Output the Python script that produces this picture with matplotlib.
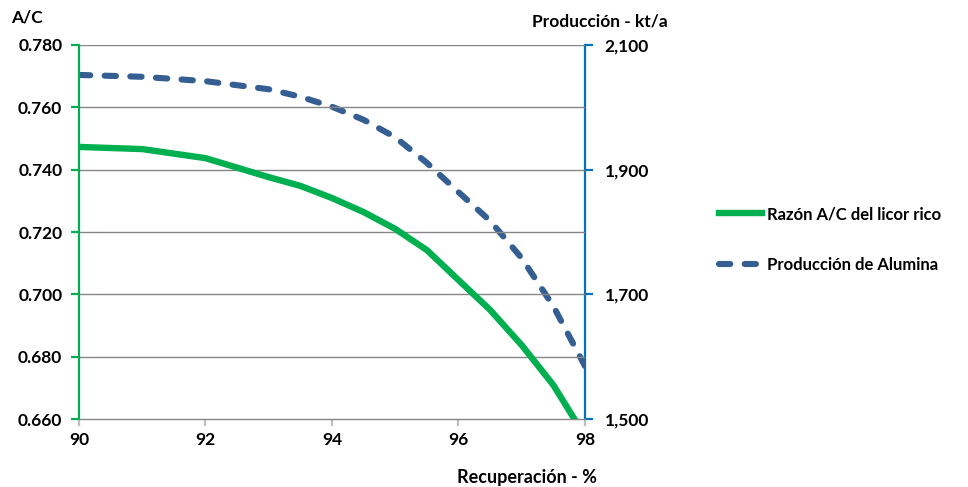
import matplotlib
matplotlib.use("Agg")
import matplotlib.pyplot as plt
from matplotlib.ticker import FuncFormatter
from matplotlib.lines import Line2D

plt.rcParams['font.family'] = ['Lato', 'DejaVu Sans']
plt.rcParams['font.weight'] = 'bold'

# Recovery (%) and the two responses
recuperacion = [90.0, 91.0, 92.0, 93.0, 93.5, 94.0, 94.5, 95.0, 95.5, 96.0, 96.5, 97.0, 97.5, 98.0]
razon_ac = [0.7473, 0.7466, 0.7437, 0.7376, 0.7348, 0.7309, 0.7264, 0.7210, 0.7142,
            0.7046, 0.6950, 0.6837, 0.6709, 0.6545]
produccion = [2052, 2049, 2042, 2029, 2017, 2001, 1980, 1952, 1911, 1864, 1818, 1758, 1681, 1585]

x_ticks = [90, 92, 94, 96, 98]
left_ticks = [0.660, 0.680, 0.700, 0.720, 0.740, 0.760, 0.780]
right_ticks = [1500, 1700, 1900, 2100]

GREEN = '#00B050'
BLUE_AXIS = '#0070C0'
BLUE_LINE = '#355F92'
GRID = '#868686'
DASH = (1.85, 2.35)

fig = plt.figure(figsize=(9.68, 4.87), dpi=100)
ax = fig.add_axes([0.0816, 0.1396, 0.5227, 0.768])
ax2 = ax.twinx()

ax.set_xlim(90, 98)
ax.set_ylim(0.660, 0.780)
ax2.set_ylim(1500, 2100)

for y in left_ticks[1:]:
    ax.axhline(y, color=GRID, lw=1.0, zorder=0)

l1, = ax.plot(recuperacion, razon_ac, color=GREEN, lw=4.6, solid_capstyle='butt', zorder=3)
l2, = ax2.plot(recuperacion, produccion, color=BLUE_LINE, lw=4.4,
               dashes=DASH, dash_capstyle='round', zorder=3)
ax.set_zorder(ax2.get_zorder() + 1)
ax.patch.set_visible(False)
ax2.patch.set_visible(True)
ax2.patch.set_facecolor('white')

ax.set_xticks(x_ticks)
ax.set_yticks(left_ticks)
ax2.set_yticks(right_ticks)
ax.yaxis.set_major_formatter(FuncFormatter(lambda v, p: f"{v:.3f}"))
ax2.yaxis.set_major_formatter(FuncFormatter(lambda v, p: f"{int(round(v)):,}"))

for a in (ax, ax2):
    a.spines['top'].set_visible(False)
ax.spines['left'].set_color(GREEN)
ax.spines['left'].set_linewidth(1.6)
ax.spines['right'].set_visible(False)
ax.spines['bottom'].set_color(GRID)
ax.spines['bottom'].set_linewidth(1.0)
ax2.spines['left'].set_visible(False)
ax2.spines['bottom'].set_visible(False)
ax2.spines['right'].set_color(BLUE_AXIS)
ax2.spines['right'].set_linewidth(1.6)

ax.tick_params(axis='y', colors=GREEN, labelcolor='black', length=6, width=1.6,
               labelsize=12.5, pad=6)
ax.tick_params(axis='x', colors='#BFBFBF', labelcolor='black', length=5, width=1.6,
               labelsize=12.5, pad=4)
ax2.tick_params(axis='y', colors=BLUE_AXIS, labelcolor='black', length=6, width=1.6,
                labelsize=12.5, pad=8)
for lab in ax.get_xticklabels() + ax.get_yticklabels() + ax2.get_yticklabels():
    lab.set_fontweight('bold')

fig.text(0.011, 0.965, "A/C", fontsize=12.5, fontweight='bold', ha='left', va='center')
fig.text(0.620, 0.955, "Producción - kt/a", fontsize=12.5, fontweight='bold',
         ha='center', va='center')
fig.text(0.617, 0.020, "Recuperación - %", fontsize=13, fontweight='bold',
         ha='right', va='center')

handles = [Line2D([], [], color=GREEN, lw=4.6),
           Line2D([], [], color=BLUE_LINE, lw=4.4, dashes=DASH, dash_capstyle='round')]
fig.legend(handles, ["Razón A/C del licor rico", "Producción de Alumina"],
           loc='center left', bbox_to_anchor=(0.727, 0.508), frameon=False,
           prop={'weight': 'bold', 'size': 12}, handlelength=2.6, handletextpad=0.3,
           labelspacing=2.1)

fig.savefig("out.png", dpi=100)
